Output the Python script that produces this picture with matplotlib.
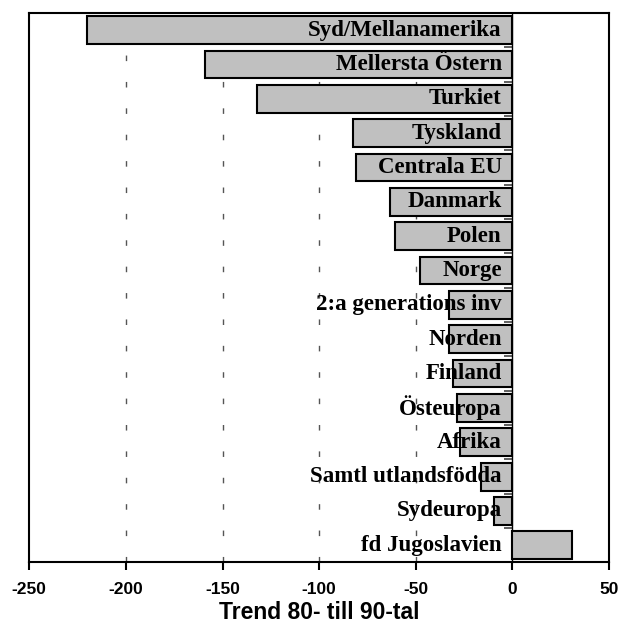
import numpy as np
import matplotlib.pyplot as plt

## data
regions = ['Syd/Mellanamerika', 'Mellersta Östern', 'Turkiet', 'Tyskland',
           'Centrala EU', 'Danmark', 'Polen', 'Norge', '2:a generations inv',
           'Norden', 'Finland', 'Östeuropa', 'Afrika', 'Samtl utlandsfödda',
           'Sydeuropa', 'fd Jugoslavien']
trend = [-220, -159, -132, -82.5, -81, -63.5, -60.5, -48, -33,
         -33, -30.5, -28.5, -27, -16, -9.5, 31]

xTicks = [-250, -200, -150, -100, -50, 0, 50]
gridX = [-200, -150, -100, -50]

## figure
fig = plt.figure(figsize=(6.26, 6.32), dpi=100)
ax = fig.add_axes([0.0468, 0.110, 0.926, 0.8695])

pos = np.arange(len(regions))
ax.barh(pos, trend, height=0.81, color='#c0c0c0', edgecolor='black',
        linewidth=1.5, zorder=2)

# dotted grid lines behind the bars
for gx in gridX:
    ax.axvline(gx, color='#555555', linewidth=1.0, linestyle=(0, (4, 15)),
               zorder=1)

# category labels, right aligned just left of zero
for p, name in zip(pos, regions):
    ax.text(-5.5, p, name, ha='right', va='center', fontsize=16.5,
            fontweight='bold', family='Liberation Serif', zorder=3)

ax.set_xlim(-250, 50)
ax.set_ylim(len(regions) - 0.5, -0.5)
ax.set_yticks([])
ax.set_xticks(xTicks)
ax.set_xticklabels([str(t) for t in xTicks], fontsize=12.5,
                   fontweight='bold', family='Liberation Sans')
ax.tick_params(axis='x', direction='out', length=6, width=1.5, pad=8)

for sp in ax.spines.values():
    sp.set_linewidth(1.5)

# category axis sitting at x = 0 with tick marks between categories
sec = ax.secondary_yaxis(250 / 300)
sec.set_yticks(np.arange(len(regions) + 1) - 0.5)
sec.set_yticklabels([])
sec.yaxis.set_ticks_position('left')
sec.tick_params(axis='y', direction='out', length=6, width=1.2,
                color='#444444')
for sp in sec.spines.values():
    sp.set_linewidth(1.0)

ax.set_xlabel('Trend 80- till 90-tal', fontsize=16.5, fontweight='bold',
              family='Liberation Sans', labelpad=3)

fig.savefig('out.png', dpi=100)
plt.close(fig)
